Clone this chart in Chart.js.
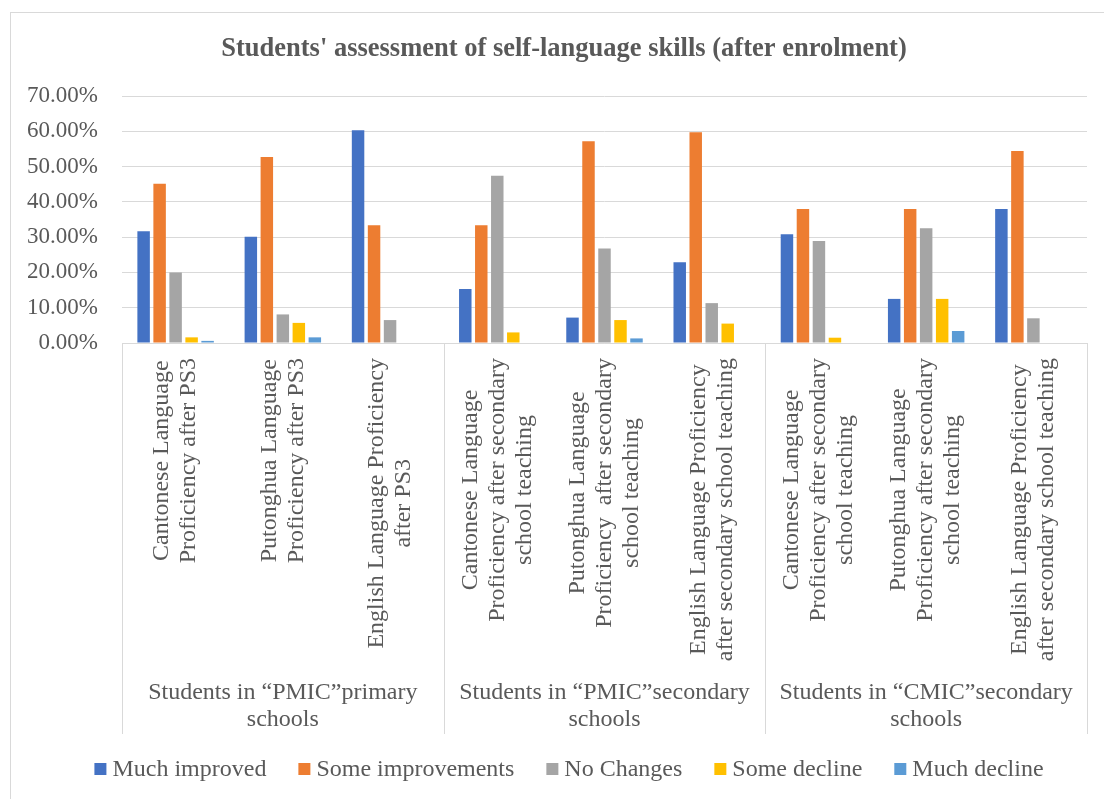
<!DOCTYPE html>
<html>
<head>
<meta charset="utf-8">
<script src="https://cdn.jsdelivr.net/npm/chart.js@4.4.1/dist/chart.umd.min.js"></script>
<style>
    html, body { margin: 0; padding: 0; background: #fff; overflow: hidden; }
    canvas { display: block; }
</style>
</head>
<body>
<canvas id="skillsChart" width="1104" height="799"></canvas>
<script>
const chartTitle = "Students' assessment of self-language skills (after enrolment)";

const categoryLabels = [
    ['Cantonese Language', 'Proficiency after PS3'],
    ['Putonghua Language', 'Proficiency after PS3'],
    ['English Language Proficiency', 'after PS3'],
    ['Cantonese Language', 'Proficiency after secondary', 'school teaching'],
    ['Putonghua Language', 'Proficiency  after secondary', 'school teaching'],
    ['English Language Proficiency', 'after secondary school teaching'],
    ['Cantonese Language', 'Proficiency after secondary', 'school teaching'],
    ['Putonghua Language', 'Proficiency after secondary', 'school teaching'],
    ['English Language Proficiency', 'after secondary school teaching']
];

const groupLabels = [
    ['Students in “PMIC”primary', 'schools'],
    ['Students in “PMIC”secondary', 'schools'],
    ['Students in “CMIC”secondary', 'schools']
];
const groupSize = 3;

const seriesNames = ['Much improved', 'Some improvements', 'No Changes', 'Some decline', 'Much decline'];
const seriesColors = ['#4472C4', '#ED7D31', '#A5A5A5', '#FFC000', '#5B9BD5'];

// percentages per category
const muchImproved     = [31.7, 30.1, 60.3, 15.3, 7.2, 22.9, 30.8, 12.5, 38.0];
const someImprovements = [45.1, 52.7, 33.4, 33.4, 57.2, 59.7, 38.0, 38.0, 54.4];
const noChanges        = [20.0, 8.1, 6.5, 47.4, 26.8, 11.3, 28.9, 32.5, 7.0];
const someDecline      = [1.6, 5.7, 0, 3.0, 6.5, 5.5, 1.5, 12.5, 0];
const muchDecline      = [0.6, 1.6, 0, 0, 1.3, 0, 0, 3.4, 0];

const yMin = 0;
const yMax = 70;
const yStep = 10;

const serif = '"Liberation Serif", "Times New Roman", serif';
const textColor = '#595959';
const lineColor = '#d9d9d9';
const lineHeight = 27;

const seriesValues = [muchImproved, someImprovements, noChanges, someDecline, muchDecline];

// frame, title, two-level category axis and legend in the Excel look
const excelLayout = {
    id: 'excelLayout',
    beforeDraw(chart) {
        const ctx = chart.ctx;
        ctx.save();
        ctx.strokeStyle = lineColor;
        ctx.lineWidth = 1;
        ctx.strokeRect(10.5, 12.5, chart.width + 40, chart.height + 40);
        ctx.restore();
    },
    afterDraw(chart) {
        const ctx = chart.ctx;
        const area = chart.chartArea;
        const x = chart.scales.x;
        const catWidth = x.getPixelForValue(1) - x.getPixelForValue(0);
        const boxBottom = area.bottom + 391;

        ctx.save();

        // title
        ctx.fillStyle = textColor;
        ctx.font = 'bold 26.5px ' + serif;
        ctx.textAlign = 'center';
        ctx.textBaseline = 'middle';
        ctx.fillText(chartTitle, 564, 49);

        // axis line and group separators
        ctx.strokeStyle = lineColor;
        ctx.lineWidth = 1;
        ctx.beginPath();
        ctx.moveTo(area.left, Math.round(area.bottom) + 0.5);
        ctx.lineTo(area.right, Math.round(area.bottom) + 0.5);
        const bounds = [];
        for (let g = 0; g <= groupLabels.length; g++) {
            const bx = g < groupLabels.length
                ? x.getPixelForValue(g * groupSize) - catWidth / 2
                : area.right;
            bounds.push(bx);
            const px = Math.round(bx) + 0.5;
            ctx.moveTo(px, area.bottom);
            ctx.lineTo(px, boxBottom);
        }
        ctx.stroke();

        // rotated category names
        ctx.font = '24px ' + serif;
        ctx.fillStyle = textColor;
        categoryLabels.forEach((lines, i) => {
            const cx = x.getPixelForValue(i);
            const longest = Math.max(...lines.map(l => ctx.measureText(l).width));
            const cy = area.bottom + 15 + longest / 2;
            ctx.save();
            ctx.translate(cx, cy);
            ctx.rotate(-Math.PI / 2);
            lines.forEach((line, k) => {
                ctx.fillText(line, 0, (k - (lines.length - 1) / 2) * lineHeight);
            });
            ctx.restore();
        });

        // school groups
        groupLabels.forEach((lines, g) => {
            const gx = (bounds[g] + bounds[g + 1]) / 2;
            lines.forEach((line, k) => {
                ctx.fillText(line, gx, 693 + k * lineHeight);
            });
        });

        // legend
        const box = 12;
        const boxGap = 6;
        const itemGap = 32;
        const widths = seriesNames.map(n => ctx.measureText(n).width);
        const total = widths.reduce((s, w) => s + box + boxGap + w, 0) + itemGap * (seriesNames.length - 1);
        let lx = 569 - total / 2;
        const ly = 769;
        ctx.textAlign = 'left';
        seriesNames.forEach((name, i) => {
            ctx.fillStyle = seriesColors[i];
            ctx.fillRect(lx, ly - box / 2, box, box);
            ctx.fillStyle = textColor;
            ctx.fillText(name, lx + box + boxGap, ly + 1);
            lx += box + boxGap + widths[i] + itemGap;
        });

        ctx.restore();
    }
};

const ctx = document.getElementById('skillsChart').getContext('2d');
const skillsChart = new Chart(ctx, {
    type: 'bar',
    data: {
        labels: categoryLabels,
        datasets: seriesNames.map((name, i) => ({
            label: name,
            data: seriesValues[i],
            backgroundColor: seriesColors[i],
            borderWidth: 0,
            categoryPercentage: 0.746,
            barPercentage: 0.78
        }))
    },
    options: {
        responsive: false,
        animation: false,
        layout: {
            padding: { left: 0, right: 17, top: 96, bottom: 456 }
        },
        scales: {
            x: {
                display: false
            },
            y: {
                min: yMin,
                max: yMax,
                afterFit(scale) {
                    scale.width = 122;
                },
                border: { display: false },
                grid: {
                    color: lineColor,
                    lineWidth: 1,
                    drawTicks: false
                },
                ticks: {
                    stepSize: yStep,
                    padding: 24,
                    color: textColor,
                    font: { family: serif, size: 23 },
                    callback: value => value.toFixed(2) + '%'
                }
            }
        },
        plugins: {
            legend: { display: false },
            title: { display: false },
            tooltip: { enabled: false }
        }
    },
    plugins: [excelLayout]
});
</script>
</body>
</html>
